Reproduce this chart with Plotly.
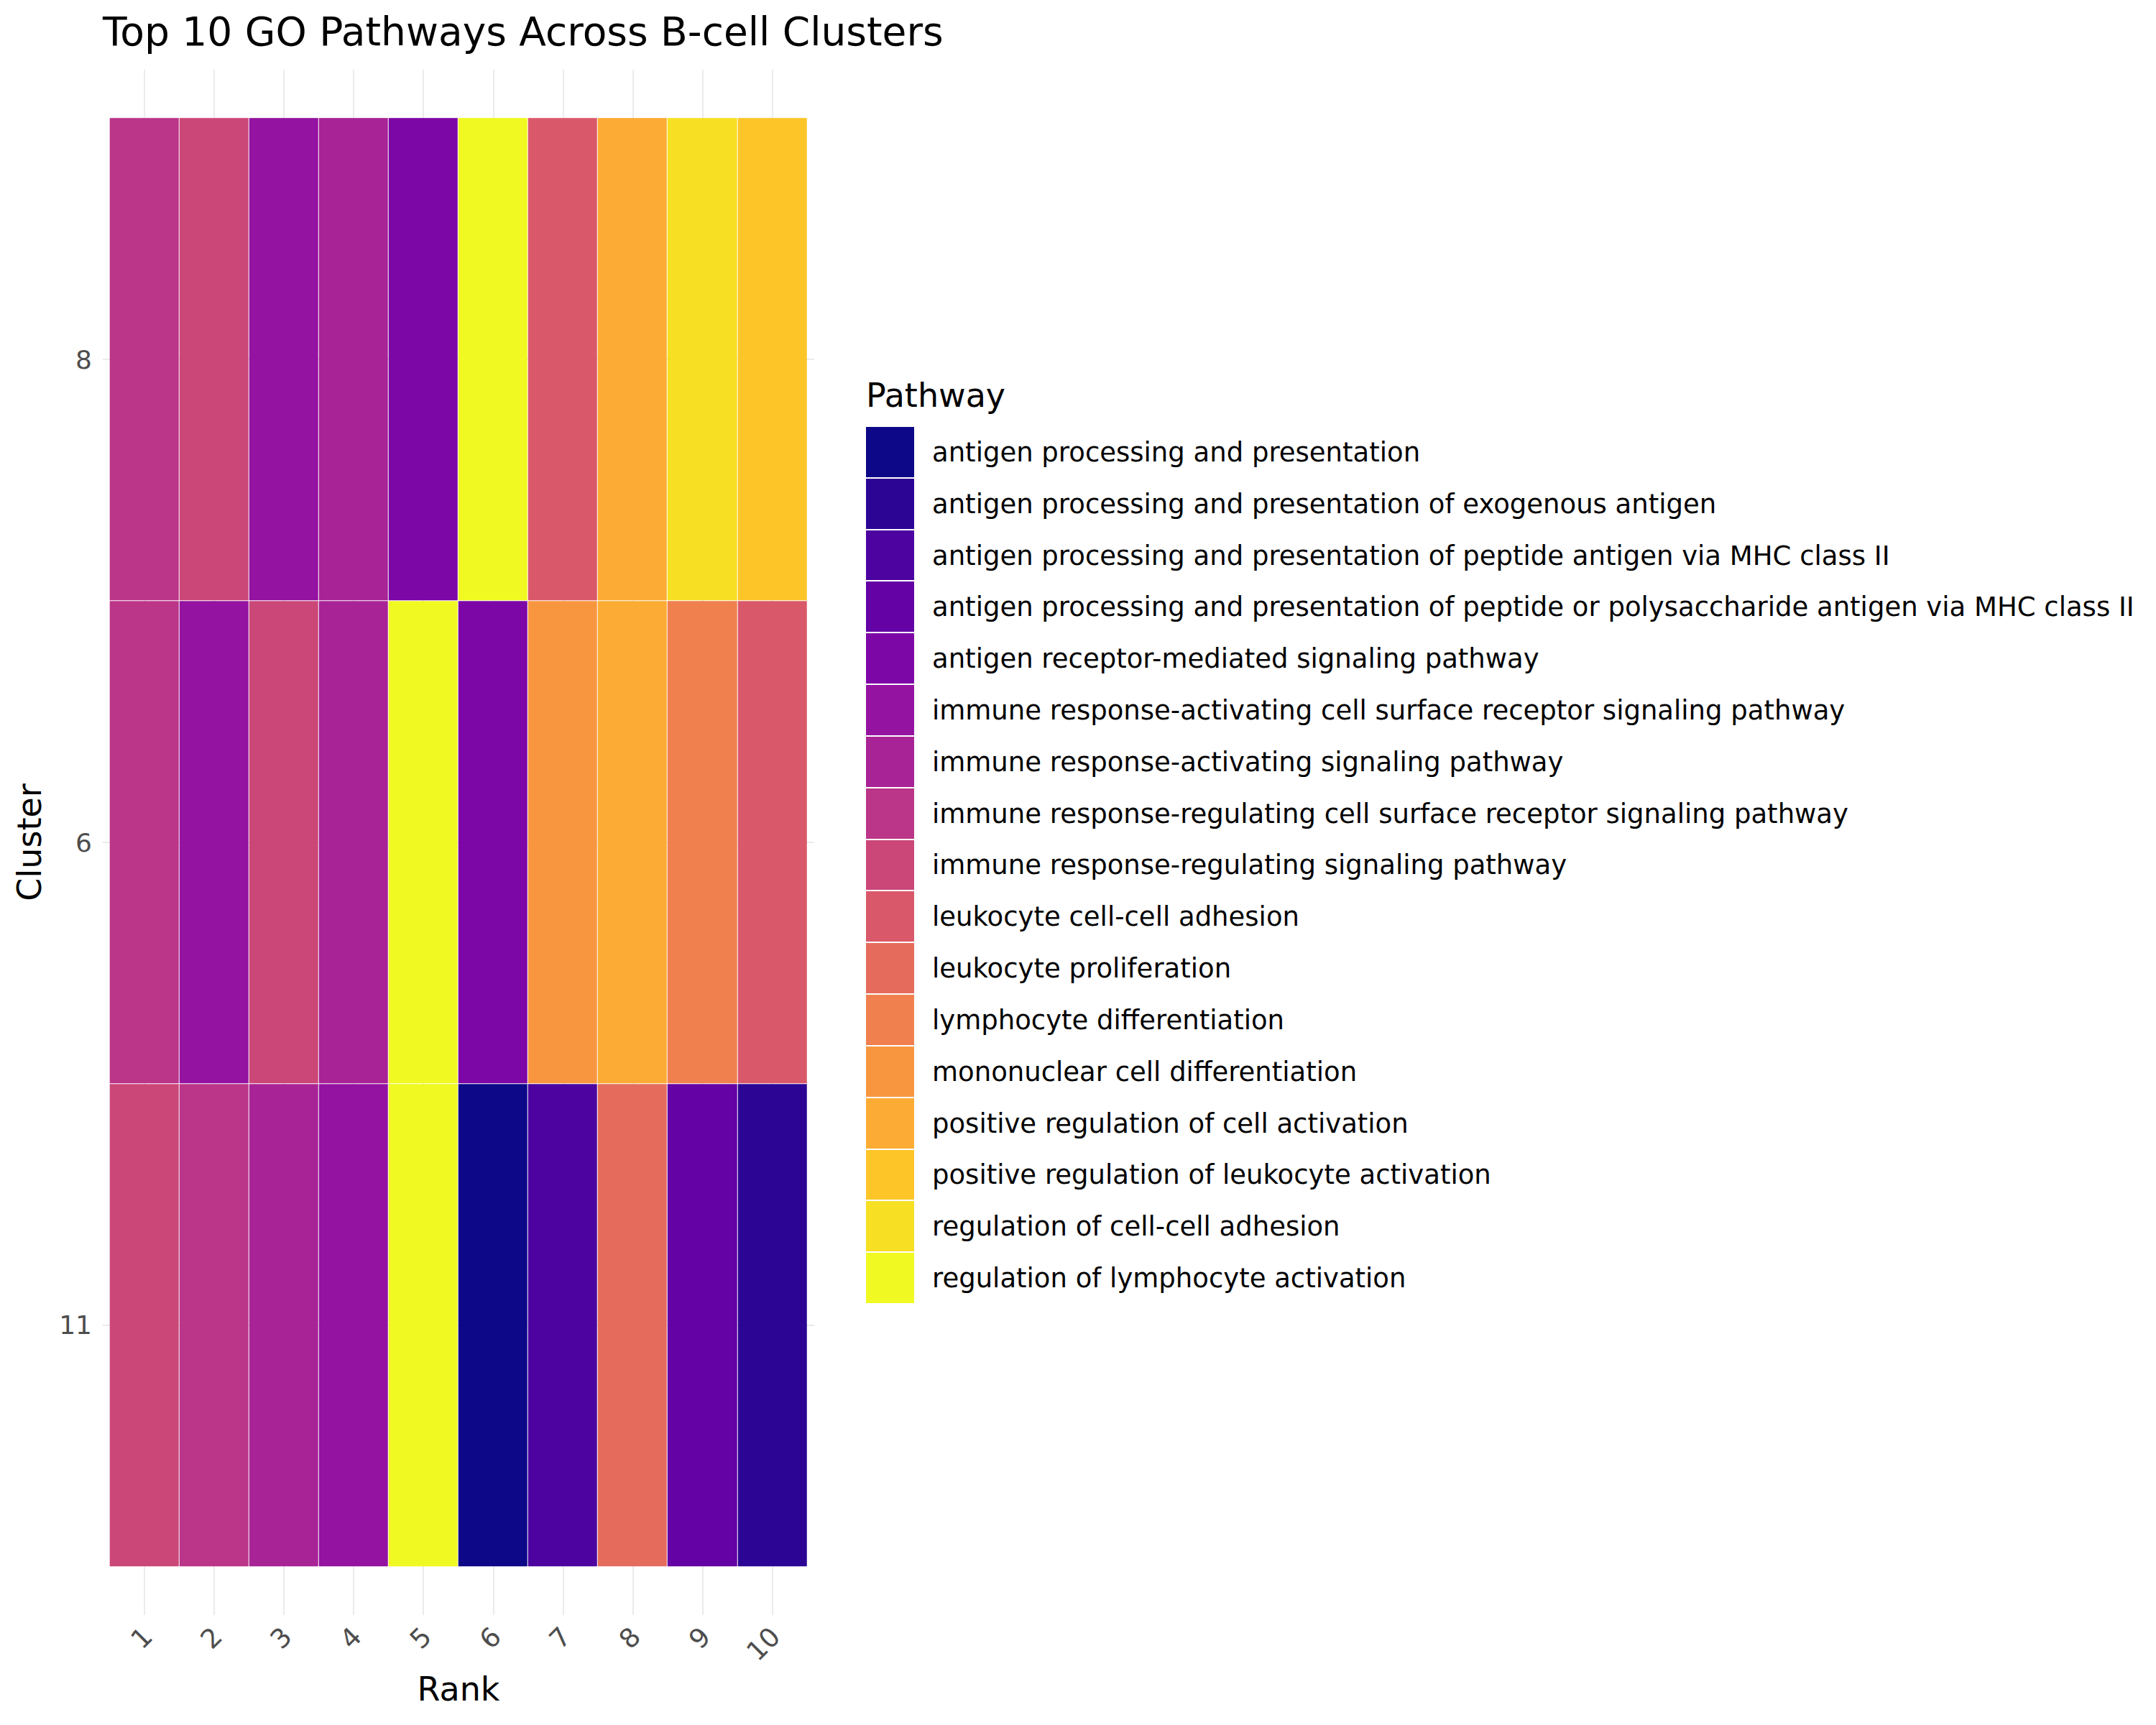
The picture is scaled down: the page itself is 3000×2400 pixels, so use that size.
import plotly.graph_objects as go
from plotly.colors import sample_colorscale
import plotly.express as px

pathways = [
    "antigen processing and presentation",
    "antigen processing and presentation of exogenous antigen",
    "antigen processing and presentation of peptide antigen via MHC class II",
    "antigen processing and presentation of peptide or polysaccharide antigen via MHC class II",
    "antigen receptor-mediated signaling pathway",
    "immune response-activating cell surface receptor signaling pathway",
    "immune response-activating signaling pathway",
    "immune response-regulating cell surface receptor signaling pathway",
    "immune response-regulating signaling pathway",
    "leukocyte cell-cell adhesion",
    "leukocyte proliferation",
    "lymphocyte differentiation",
    "mononuclear cell differentiation",
    "positive regulation of cell activation",
    "positive regulation of leukocyte activation",
    "regulation of cell-cell adhesion",
    "regulation of lymphocyte activation",
]

ranks = [1, 2, 3, 4, 5, 6, 7, 8, 9, 10]
clusters = ["11", "6", "8"]  # bottom to top

# pathway index per rank for each cluster
cluster_11 = [8, 7, 6, 5, 16, 0, 2, 10, 3, 1]
cluster_6 = [7, 5, 8, 6, 16, 4, 12, 13, 11, 9]
cluster_8 = [7, 8, 5, 6, 4, 16, 9, 13, 15, 14]
cluster_rows = [cluster_11, cluster_6, cluster_8]

n = len(pathways)
colors = sample_colorscale(px.colors.sequential.Plasma, [i / (n - 1) for i in range(n)])
colorscale = []
for i, c in enumerate(colors):
    colorscale.append([i / n, c])
    colorscale.append([(i + 1) / n, c])

W, H = 3000, 2400
OFF = 8  # page offset of the figure
ML, MR, MT, MB = 143 - OFF, 10, 97 - OFF, H - (2247 - OFF)
PW, PH = W - ML - MR, H - MT - MB

def px_x(v):
    return (v - OFF - ML) / PW

def px_y(v):
    return (H - MB - (v - OFF)) / PH

hover_text = [[pathways[p] for p in row] for row in cluster_rows]

fig = go.Figure()
fig.add_trace(go.Heatmap(
    x=ranks, y=[0, 1, 2], z=cluster_rows, text=hover_text,
    colorscale=colorscale, zmin=-0.5, zmax=n - 0.5, showscale=False,
    xgap=1, ygap=1,
    hovertemplate="Rank %{x}<br>%{text}<extra></extra>",
    xaxis="x", yaxis="y",
))
# legend drawn as a key column
fig.add_trace(go.Heatmap(
    x=[0], y=list(range(n)), z=[[i] for i in range(n)],
    colorscale=colorscale, zmin=-0.5, zmax=n - 0.5, showscale=False,
    ygap=2, hovertemplate="%{y}<extra></extra>",
    xaxis="x2", yaxis="y2",
))

fig.update_layout(
    width=W, height=H,
    paper_bgcolor="white", plot_bgcolor="white",
    font=dict(family="DejaVu Sans", color="black"),
    margin=dict(l=ML, r=MR, t=MT, b=MB, autoexpand=False),
    showlegend=False,
    title=dict(text="Top 10 GO Pathways Across B-cell Clusters",
               font=dict(size=55, color="black"),
               xref="paper", x=0, xanchor="left",
               yref="container", y=1 - 36 / H, yanchor="middle"),
    xaxis=dict(
        domain=[0, px_x(1133)],
        range=[0.4, 10.6], tickvals=ranks, ticktext=[str(r) for r in ranks],
        tickangle=-45, showgrid=True, gridcolor="#ebebeb", gridwidth=2,
        zeroline=False, showline=False, ticks="",
        tickfont=dict(size=37, color="#4d4d4d"),
        title=dict(text="Rank", font=dict(size=46, color="black"), standoff=15),
    ),
    yaxis=dict(
        range=[-0.6, 2.6], tickvals=[0, 1, 2], ticktext=clusters,
        showgrid=True, gridcolor="#ebebeb", gridwidth=2,
        zeroline=False, showline=False, ticks="", ticklabelstandoff=14,
        tickfont=dict(size=36, color="#4d4d4d"),
        title=dict(text="Cluster", font=dict(size=46, color="black"), standoff=10),
    ),
    xaxis2=dict(
        domain=[px_x(1205), px_x(1272)], anchor="y2",
        range=[-0.5, 0.5], showgrid=False, zeroline=False, showline=False,
        showticklabels=False, ticks="",
    ),
    yaxis2=dict(
        domain=[px_y(1814), px_y(593)], anchor="x2", side="right",
        range=[n - 0.5, -0.5], tickvals=list(range(n)), ticktext=pathways,
        showgrid=False, zeroline=False, showline=False, ticks="",
        ticklabelstandoff=24,
        tickfont=dict(size=37, color="black"),
    ),
    annotations=[dict(
        text="Pathway", xref="paper", yref="paper",
        x=px_x(1203), y=px_y(550), xanchor="left", yanchor="middle",
        showarrow=False, font=dict(size=46, color="black"),
    )],
)

fig.write_html("out.html")
